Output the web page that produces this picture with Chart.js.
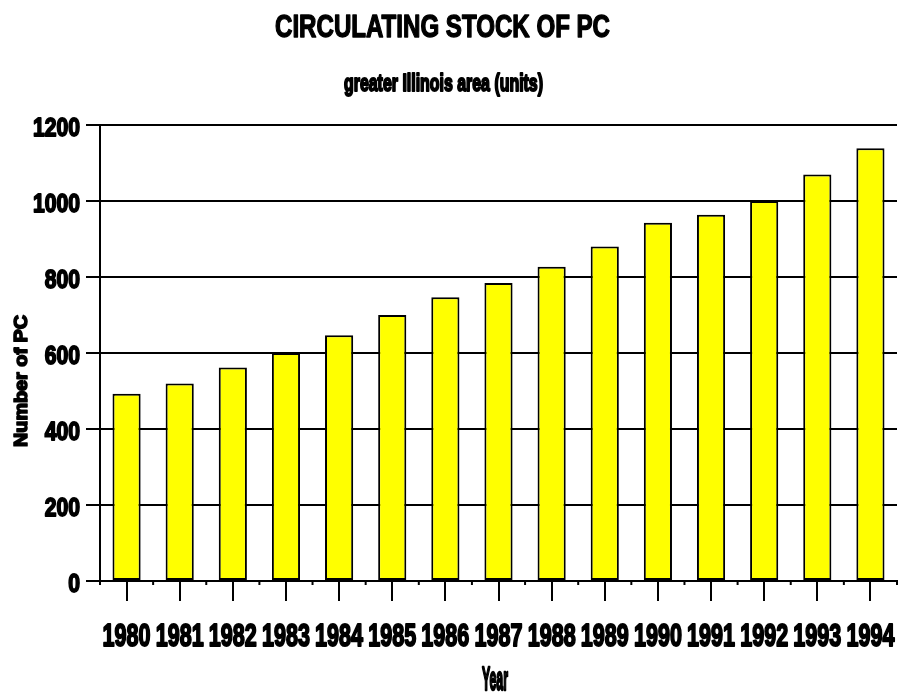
<!DOCTYPE html>
<html>
<head>
<meta charset="utf-8">
<script src="https://cdn.jsdelivr.net/npm/chart.js@4/dist/chart.umd.min.js"></script>
<style>
  html, body { margin: 0; padding: 0; background: #fff; }
  #wrap { width: 898px; height: 694px; }
</style>
</head>
<body>
<div id="wrap"><canvas id="c" width="898" height="694"></canvas></div>
<script>
const years = ['1980','1981','1982','1983','1984','1985','1986','1987','1988','1989','1990','1991','1992','1993','1994'];
const pcStock = [493, 520, 562, 600, 647, 700, 747, 784, 827, 880, 943, 964, 1000, 1070, 1139];
const yTicks = [0, 200, 400, 600, 800, 1000, 1200];
const titleText = 'CIRCULATING STOCK OF PC';
const subtitleText = 'greater Illinois area (units)';
const yTitle = 'Number of PC';
const xTitle = 'Year';

const FONT = "'Liberation Sans', Arial, sans-serif";

// Draw heavy text horizontally compressed so that `ref` string spans `targetW` px.
function squeezed(ctx, text, x, y, size, targetW, align, ref, heavy) {
  ctx.font = 'bold ' + size + 'px ' + FONT;
  const w = ctx.measureText(ref || text).width;
  const sx = targetW / w;
  ctx.save();
  ctx.translate(x, y);
  ctx.scale(sx, 1);
  ctx.textAlign = align || 'center';
  ctx.textBaseline = 'alphabetic';
  ctx.fillStyle = '#000';
  ctx.strokeStyle = '#000';
  ctx.lineJoin = 'round';
  ctx.lineWidth = heavy == null ? 1.6 : heavy;
  ctx.fillText(text, 0, 0);
  if (ctx.lineWidth > 0) ctx.strokeText(text, 0, 0);
  ctx.restore();
}

const textPlugin = {
  id: 'textPlugin',
  afterDraw(chart) {
    const ctx = chart.ctx;
    const xs = chart.scales.x, ys = chart.scales.y;
    const area = chart.chartArea;
    ctx.save();
    // boundary ticks on the x axis
    ctx.strokeStyle = '#000';
    ctx.lineWidth = 2;
    for (let i = 0; i <= years.length; i++) {
      const px = xs.getPixelForValue(i - 0.5);
      ctx.beginPath();
      ctx.moveTo(px, area.bottom);
      ctx.lineTo(px, area.bottom + 4);
      ctx.stroke();
    }
    // titles
    squeezed(ctx, titleText, 442.5, 37, 31, 335, 'center', null, 1.4);
    squeezed(ctx, subtitleText, 443.5, 91, 23, 199, 'center', null, 2);
    // y tick labels
    yTicks.forEach(v => {
      squeezed(ctx, String(v), 80, ys.getPixelForValue(v) + 11, 26, 47, 'right', '1200', 1.8);
    });
    // x tick labels
    years.forEach((lab, i) => {
      squeezed(ctx, lab, xs.getPixelForValue(i), 646, 32, 48, 'center', '1980', 2);
    });
    // x title
    squeezed(ctx, xTitle, 495, 690, 33, 26, 'center', null, 2.5);
    // y title (rotated)
    ctx.save();
    ctx.translate(27, 381);
    ctx.rotate(-Math.PI / 2);
    squeezed(ctx, yTitle, 0, 0, 18, 132, 'center', null, 1.6);
    ctx.restore();
    ctx.restore();
  }
};

new Chart(document.getElementById('c'), {
  type: 'bar',
  data: {
    labels: years,
    datasets: [{
      data: pcStock,
      backgroundColor: '#ffff00',
      borderColor: '#000',
      borderWidth: 2,
      borderSkipped: false,
      categoryPercentage: 1.0,
      barPercentage: 0.53
    }]
  },
  options: {
    responsive: false,
    animation: false,
    devicePixelRatio: 1,
    layout: { padding: { left: 86, right: 1, top: 125, bottom: 93 } },
    plugins: {
      legend: { display: false },
      tooltip: { enabled: false },
      title: { display: false },
      subtitle: { display: false }
    },
    scales: {
      x: {
        grid: {
          display: true,
          offset: false,
          drawOnChartArea: false,
          drawTicks: true,
          tickLength: 20,
          color: '#000',
          lineWidth: 2
        },
        border: { display: true, color: '#000', width: 2 },
        ticks: { display: false, autoSkip: false, maxRotation: 0 },
        title: { display: false }
      },
      y: {
        min: 0,
        max: 1200,
        afterBuildTicks(scale) { scale.ticks = yTicks.map(v => ({ value: v })); },
        grid: {
          color: '#000',
          lineWidth: 2,
          tickLength: 14,
          drawTicks: true
        },
        border: { display: true, color: '#000', width: 2 },
        ticks: { display: false },
        title: { display: false }
      }
    }
  },
  plugins: [textPlugin]
});
</script>
</body>
</html>
